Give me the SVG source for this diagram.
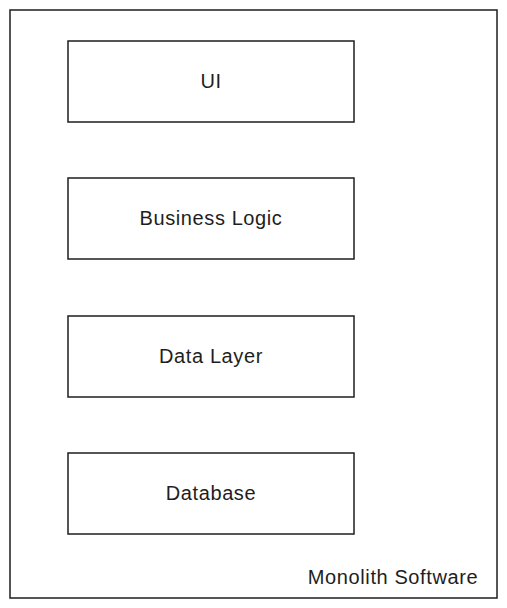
<svg xmlns="http://www.w3.org/2000/svg" width="507" height="608" viewBox="0 0 507 608">
<style>
.frame{fill:#fff;stroke:#1e1e1e;stroke-width:1.5}
.box{fill:#fff;stroke:#1e1e1e;stroke-width:1.5}
.lbl{font-family:"Liberation Sans",Arial,sans-serif;font-size:20px;letter-spacing:0.6px;fill:#1e1e1e;text-anchor:middle}
</style>
<rect width="507" height="608" fill="#fff"/>
<g id="monolith">
<rect class="frame" x="10" y="10" width="487" height="588"/>
<text class="lbl" x="393" y="584">Monolith Software</text>
</g>
<g id="ui">
<rect class="box" x="68" y="41" width="286" height="81"/>
<text class="lbl" x="211" y="88">UI</text>
</g>
<g id="business-logic">
<rect class="box" x="68" y="178" width="286" height="81"/>
<text class="lbl" x="211" y="225">Business Logic</text>
</g>
<g id="data-layer">
<rect class="box" x="68" y="316" width="286" height="81"/>
<text class="lbl" x="211" y="363">Data Layer</text>
</g>
<g id="database">
<rect class="box" x="68" y="453" width="286" height="81"/>
<text class="lbl" x="211" y="500">Database</text>
</g>
<g id="connectors"/>
</svg>
